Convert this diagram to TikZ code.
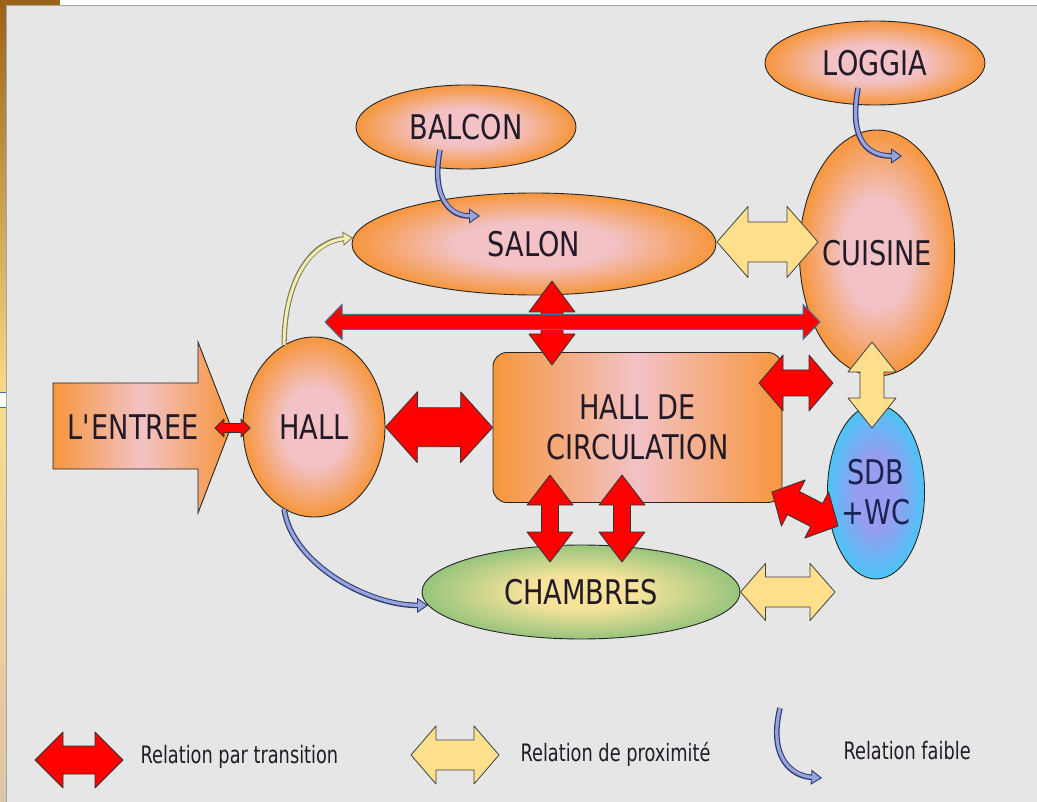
\documentclass[tikz,border=0pt]{standalone}
\usepackage{fontspec}
\setmainfont{DejaVu Sans}[FakeStretch=0.8]
\newfontfamily\legendfont{DejaVu Sans}[FakeStretch=0.74]
\usepackage{tikz}
\usetikzlibrary{
  arrows.meta,
  calc,
  shapes.geometric
}
\definecolor{bgc}{HTML}{E6E6E6}
\definecolor{orangec}{HTML}{F7963C}
\definecolor{pinkc}{HTML}{F2C2C6}
\definecolor{redc}{HTML}{FF0000}
\definecolor{yellowc}{HTML}{FEDF8C}
\definecolor{greenc}{HTML}{98C47C}
\definecolor{lemonc}{HTML}{F6E39A}
\definecolor{skyc}{HTML}{4CC4F6}
\definecolor{lilac}{HTML}{9A9CF0}
\definecolor{inkc}{HTML}{221A26}
\definecolor{navyc}{HTML}{1A2452}
\definecolor{weakc}{HTML}{2E3A6E}
\definecolor{weakfill}{HTML}{98A4DE}
\definecolor{paleline}{HTML}{7A7A5A}
\definecolor{palefill}{HTML}{F2ECB0}
\definecolor{steelc}{HTML}{41719C}
\definecolor{brownc}{HTML}{9C6418}
\definecolor{goldc}{HTML}{F8DC8C}
\definecolor{beigec}{HTML}{DCC6A8}
\pgfdeclareradialshading{orangepink}{\pgfpoint{0bp}{0bp}}{color(0bp)=(pinkc); color(11bp)=(pinkc); color(25bp)=(orangec); color(50bp)=(orangec)}
\pgfdeclarehorizontalshading{orangeband}{100bp}{color(0bp)=(orangec); color(25bp)=(orangec); color(50bp)=(pinkc); color(75bp)=(orangec); color(100bp)=(orangec)}
\pgfdeclareradialshading{lemongreen}{\pgfpoint{0bp}{0bp}}{color(0bp)=(lemonc); color(9bp)=(lemonc); color(25bp)=(greenc); color(50bp)=(greenc)}
\pgfdeclareradialshading{skylilac}{\pgfpoint{0bp}{0bp}}{color(0bp)=(lilac); color(10bp)=(lilac); color(25bp)=(skyc); color(50bp)=(skyc)}
\newcommand{\roomfont}{\fontsize{34}{40}\selectfont}
% fat double arrow: style, from, to, half shaft, half head, head length
\newcommand{\fatarrow}[6][]{%
  \draw[#1] (#2)
    -- ($(#2)!#6!(#3)!#5!90:(#3)$) -- ($(#2)!#6!(#3)!#4!90:(#3)$)
    -- ($(#3)!#6!(#2)!#4!-90:(#2)$) -- ($(#3)!#6!(#2)!#5!-90:(#2)$)
    -- (#3)
    -- ($(#3)!#6!(#2)!#5!90:(#2)$) -- ($(#3)!#6!(#2)!#4!90:(#2)$)
    -- ($(#2)!#6!(#3)!#4!-90:(#3)$) -- ($(#2)!#6!(#3)!#5!-90:(#3)$)
    -- cycle;}

\begin{document}
\begin{tikzpicture}[x=1pt, y=-1pt,
  room/.style={ellipse, draw=black!85, line width=0.9pt, shade, shading=orangepink, inner sep=0pt, text=inkc, font=\roomfont},
  hub/.style={rectangle, rounded corners=14pt, draw=black!85, line width=0.9pt, shade, shading=orangeband, minimum width=289pt, minimum height=150pt, align=center, text=inkc, font=\roomfont},
  transit/.style={draw=black!80, line width=0.8pt, fill=redc, line join=round},
  bigtransit/.style={draw=steelc, line width=1pt, fill=redc, line join=miter},
  proxi/.style={draw=black!75, line width=0.8pt, fill=yellowc, line join=round},
  weak/.style={draw=weakc, line width=5.6pt,
    -{Triangle[length=11pt, width=15pt, fill=weakfill, line width=0.9pt]},
    postaction={draw=weakfill, line width=3.2pt, -, shorten >=9pt}},
  paleweak/.style={draw=paleline, line width=5.2pt,
    -{Triangle[length=10pt, width=14pt, fill=palefill, line width=0.8pt]},
    postaction={draw=palefill, line width=3pt, -, shorten >=8pt}},
  legtext/.style={anchor=west, text=inkc, font=\legendfont\fontsize{24}{28}\selectfont}
]
  \useasboundingbox (0,0) rectangle (1037,802);
  % slide background
  \fill[bgc] (0,0) rectangle (1037,802);
  \fill[white] (0,0) rectangle (1037,5);
  \fill[brownc] (0,0) rectangle (60,5);
  \shade[top color=brownc, bottom color=goldc] (0,5) rectangle (6,400);
  \shade[top color=goldc, bottom color=beigec] (0,400) rectangle (6,802);
  \fill[white] (0,393) rectangle (6,408);
  \draw[steelc, line width=1pt] (0,393) -- (6,393) (0,408) -- (6,408);
  \draw[black!35, line width=1.5pt] (6.5,802) -- (6.5,5.5) -- (1037,5.5);

  % rooms
  \shadedraw[shading=orangeband, draw=black!85, line width=0.9pt] (53,383) -- (198,383) -- (198,342) -- (231,427) -- (198,513) -- (198,469) -- (53,469) -- cycle;
  \node[font=\roomfont, text=inkc] (entree) at (133,427) {L\textquotesingle ENTREE};
  \node[room, minimum width=142pt, minimum height=180pt] (hall) at (314,427) {HALL};
  \node[hub] (circ) at (637.5,427.5) {HALL DE\\CIRCULATION};
  \node[room, minimum width=364pt, minimum height=102pt] (salon) at (534,244) {SALON};
  \node[room, minimum width=220pt, minimum height=84pt] (balcon) at (466,127) {BALCON};
  \node[room, minimum width=220pt, minimum height=84pt] (loggia) at (875,63) {LOGGIA};
  \node[room, minimum width=140pt, minimum height=246pt] (cuisine) at (877,253) {CUISINE};
  \node[room, shading=skylilac, text=navyc, align=center, minimum width=88pt, minimum height=174pt] (sdb) at (876,492) {SDB\\+WC};
  \node[room, shading=lemongreen, minimum width=318pt, minimum height=94pt] (chambres) at (581,592) {CHAMBRES};

  % transitions
  \coordinate (t1a) at (215,428);
  \coordinate (t1b) at (250,428);
  \fatarrow[transit]{t1a}{t1b}{4.5pt}{9pt}{9pt}
  \fatarrow[transit]{hall.east}{circ.west}{19.5pt}{35.5pt}{32pt}
  \coordinate (t3a) at (552,281);
  \coordinate (t3b) at (552,365);
  \fatarrow[transit]{t3a}{t3b}{11pt}{23pt}{31pt}
  \coordinate (t4a) at (550,475);
  \coordinate (t4b) at (550,562);
  \fatarrow[transit]{t4a}{t4b}{8.5pt}{23pt}{30pt}
  \coordinate (t5a) at (622,475);
  \coordinate (t5b) at (622,562);
  \fatarrow[transit]{t5a}{t5b}{8.5pt}{23pt}{30pt}
  \coordinate (t6a) at (759,383);
  \coordinate (t6b) at (833,383);
  \fatarrow[transit]{t6a}{t6b}{13pt}{28pt}{24pt}
  \coordinate (t7a) at (772,492);
  \coordinate (t7b) at (838,526);
  \fatarrow[transit]{t7a}{t7b}{13pt}{26pt}{24pt}

  % proximity
  \coordinate (p1a) at (717,242);
  \coordinate (p1b) at (818,242);
  \fatarrow[proxi]{p1a}{p1b}{20pt}{35.5pt}{31pt}
  \coordinate (p2a) at (872,342);
  \coordinate (p2b) at (872,428);
  \fatarrow[proxi]{p2a}{p2b}{12pt}{24pt}{30pt}
  \coordinate (p3b) at (835,592);
  \fatarrow[proxi]{chambres.east}{p3b}{15pt}{28.5pt}{25pt}

  % long transition
  \coordinate (t8a) at (325,322);
  \coordinate (t8b) at (820,322);
  \fatarrow[bigtransit]{t8a}{t8b}{7.5pt}{17.5pt}{17pt}

  % weak links
  \draw[weak] ([shift={(-26,23)}]balcon.center) .. controls +(-8,40) and +(-35,0) .. ([shift={(-54,-28)}]salon.center);
  \draw[weak] ([shift={(-17,25)}]loggia.center) .. controls +(-8,45) and +(-40,0) .. ([shift={(25,-97)}]cuisine.center);
  \draw[paleweak] (hall.110) .. controls +(0,-60) and +(-45,5) .. (salon.178);
  \draw[weak] (hall.250) .. controls +(8,55) and +(-60,0) .. (chambres.185);

  % legend
  \coordinate (l1a) at (35,760);
  \coordinate (l1b) at (123,760);
  \fatarrow[transit]{l1a}{l1b}{14pt}{28pt}{28pt}
  \node[legtext] (ltrans) at (137,757) {Relation par transition};
  \coordinate (l2a) at (411,755);
  \coordinate (l2b) at (499,755);
  \fatarrow[proxi]{l2a}{l2b}{15pt}{29pt}{25pt}
  \node[legtext] (lprox) at (517,754) {Relation de proximité};
  \coordinate (l3a) at (780,708);
  \coordinate (l3b) at (822,778);
  \draw[weak] (l3a) .. controls +(-12,50) and +(-30,-2) .. (l3b);
  \node[legtext] (lweak) at (840,751) {Relation faible};
\end{tikzpicture}
\end{document}
